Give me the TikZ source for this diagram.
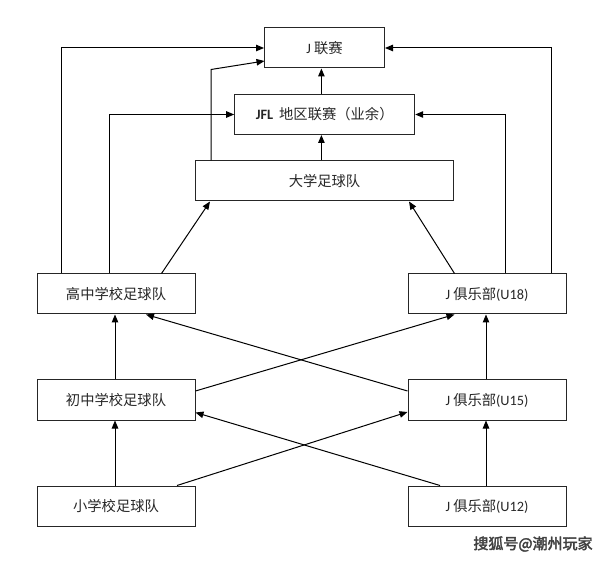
\documentclass[tikz,border=0pt]{standalone}
\usepackage{fontspec}
\setmainfont{Noto Sans CJK SC}
\newfontfamily\lat{Carlito}
\newfontfamily\wmfont[FakeBold=2.5]{Noto Sans CJK SC}
\usetikzlibrary{arrows.meta}
\begin{document}
\begin{tikzpicture}[x=1pt,y=-1pt,
  box/.style={draw=black!85,line width=1pt,minimum height=40pt,inner sep=0pt,
    font=\fontsize{14.3}{16}\selectfont,text=black!85},
  smallbox/.style={box,minimum width=158pt},
  link/.style={draw=black,line width=1pt,-{Triangle[length=8pt,width=6.5pt]}}]
\useasboundingbox (0,0) rectangle (608,561);
\node[box,minimum width=120pt] (jl) at (324.5,48) {{\lat J} 联赛};
\node[box,minimum width=180pt] (jfl) at (324.7,114.5) {{\lat\bfseries JFL}\hspace{6pt}地区联赛（业余）};
\node[box,minimum width=258pt] (dx) at (324.5,181) {大学足球队};
\node[smallbox] (gz) at (116,294) {高中学校足球队};
\node[smallbox] (u18) at (487,294) {{\lat J} 俱乐部{\lat (U18)}};
\node[smallbox] (cz) at (116,400) {初中学校足球队};
\node[smallbox] (u15) at (487,400) {{\lat J} 俱乐部{\lat (U15)}};
\node[smallbox] (xx) at (116,506) {小学校足球队};
\node[smallbox] (u12) at (487,506) {{\lat J} 俱乐部{\lat (U12)}};
\node[font=\wmfont\fontsize{15}{17}\selectfont,text=black!75] (wm) at (533,544) {搜狐号@潮州玩家};
% coordinates for bends
\coordinate (bendA) at (211,69.5);
\coordinate (jlA) at (264.5,61);
% connectors to the top
\draw[link] (gz.north -| 61.5,0) |- (jl.west);
\draw[link] (gz.north -| 109,0) |- (jfl.west);
\draw[link] (u18.north -| 551.8,0) |- (jl.east);
\draw[link] (u18.north -| 505.8,0) |- (jfl.east);
\draw[link] (dx.north -| 211,0) -- (bendA) -- (jlA);
\draw[link] (jfl.north -| 321.4,0) -- (jl.south -| 321.4,0);
\draw[link] (dx.north -| 321.4,0) -- (jfl.south -| 321.4,0);
\draw[link] (gz.north -| 161.5,0) -- (dx.south -| 210,0);
\draw[link] (u18.north -| 454.5,0) -- (dx.south -| 409,0);
% middle level
\draw[link] (cz.north -| 115,0) -- (gz.south -| 115,0);
\draw[link] (u15.west |- 0,391) -- (gz.south -| 146,0);
\draw[link] (cz.east |- 0,391) -- (u18.south -| 454.5,0);
\draw[link] (u15.north -| 486,0) -- (u18.south -| 486,0);
% bottom level
\draw[link] (xx.north -| 115,0) -- (cz.south -| 115,0);
\draw[link] (u12.north -| 440,0) -- (cz.east |- 0,412.5);
\draw[link] (xx.north -| 177,0) -- (u15.west |- 0,412);
\draw[link] (u12.north -| 486,0) -- (u15.south -| 486,0);
\end{tikzpicture}
\end{document}
